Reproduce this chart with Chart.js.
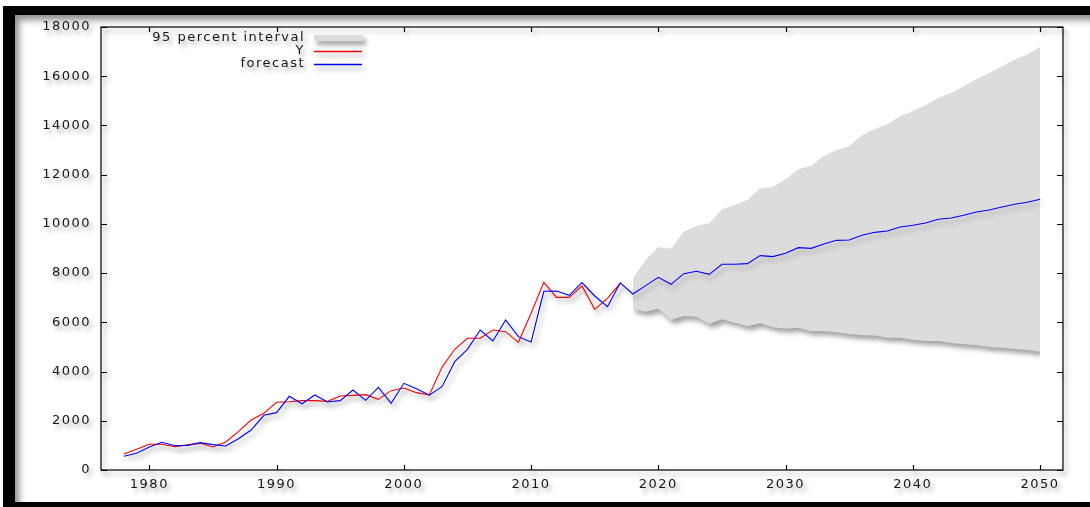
<!DOCTYPE html>
<html>
<head>
<meta charset="utf-8">
<script src="https://cdn.jsdelivr.net/npm/chart.js@4"></script>
<style>
  html, body { margin: 0; padding: 0; background: #fff; }
  body { width: 1090px; height: 507px; position: relative; overflow: hidden; }
  #frame {
    position: absolute; left: 3px; top: 6px; width: 1087px; height: 501px;
    box-sizing: border-box;
    border-top: 9px solid #000; border-left: 12px solid #000; border-bottom: 5px solid #000;
    box-shadow: inset 5px 6px 7px -1px rgba(0,0,0,0.45);
  }
  #c { position: absolute; left: 0; top: 0; }
</style>
</head>
<body>
<div id="frame"></div>
<canvas id="c" width="1090" height="507"></canvas>
<script>
// ---- data ----
const actualYears = [1978,1979,1980,1981,1982,1983,1984,1985,1986,1987,1988,1989,1990,1991,1992,1993,1994,1995,1996,1997,
  1998,1999,2000,2001,2002,2003,2004,2005,2006,2007,2008,2009,2010,2011,2012,2013,2014,2015,2016,2017];
const yValues = [650,840,1044,1044,948,1020,1083,935,1138,1558,2032,2302,2750,2775,2817,2817,2790,3007,3034,3062,
  2871,3224,3332,3143,3048,4172,4904,5351,5351,5689,5621,5188,6366,7626,7016,7016,7477,6529,6976,7585];

const forecastYears = [1978,1979,1980,1981,1982,1983,1984,1985,1986,1987,1988,1989,1990,1991,1992,1993,1994,1995,1996,1997,
  1998,1999,2000,2001,2002,2003,2004,2005,2006,2007,2008,2009,2010,2011,2012,2013,2014,2015,2016,2017,
  2018,2019,2020,2021,2022,2023,2024,2025,2026,2027,2028,2029,2030,2031,2032,2033,2034,2035,2036,2037,
  2038,2039,2040,2041,2042,2043,2044,2045,2046,2047,2048,2049,2050];
const forecastValues = [556,678,935,1125,989,1000,1110,1030,975,1273,1625,2222,2330,2995,2690,3048,2763,2817,3251,2830,
  3359,2709,3522,3305,3040,3387,4402,4904,5689,5242,6095,5418,5201,7260,7275,7097,7612,7070,6637,7600,
  7151,7490,7829,7544,7977,8073,7950,8357,8357,8385,8710,8669,8805,9034,9007,9183,9332,9345,9535,9657,
  9711,9874,9942,10036,10186,10240,10349,10484,10565,10687,10796,10877,11000];

const bandYears = [2018,2019,2020,2021,2022,2023,2024,2025,2026,2027,2028,2029,2030,2031,2032,2033,2034,2035,2036,2037,
  2038,2039,2040,2041,2042,2043,2044,2045,2046,2047,2048,2049,2050];
const bandUpper = [7789,8533,9049,8993,9684,9928,10024,10593,10768,10971,11446,11512,11812,12218,12365,12759,13003,13164,13597,13854,
  14045,14371,14588,14830,15130,15320,15591,15889,16132,16404,16675,16878,17192];
const bandLower = [6529,6432,6554,6095,6258,6230,5933,6123,5986,5839,5961,5798,5742,5784,5636,5650,5595,5526,5473,5460,
  5377,5377,5296,5242,5242,5160,5107,5079,4998,4970,4917,4876,4808];

const xTickValues = [1980,1990,2000,2010,2020,2030,2040,2050];
const yTickValues = [0,2000,4000,6000,8000,10000,12000,14000,16000,18000];
const legendLabels = ['95 percent interval','Y','forecast'];

const pts = (xs, ys) => xs.map((x, i) => ({x: x, y: ys[i]}));

const FONT = '13px "DejaVu Sans", sans-serif';
const TEXT = '#151515';

function applyStyle(ctx) {
  ctx.shadowColor = 'rgba(0,0,0,0.38)';
  ctx.shadowBlur = 5;
  ctx.shadowOffsetX = 3;
  ctx.shadowOffsetY = 4;
  try { ctx.letterSpacing = '1.5px'; } catch (e) {}
}

const stylePlugin = {
  id: 'gstyle',
  beforeDraw(chart) { applyStyle(chart.ctx); },
  afterDraw(chart) {
    const ctx = chart.ctx, a = chart.chartArea;
    const xs = chart.scales.x, ys = chart.scales.y;
    ctx.save();
    applyStyle(ctx);
    ctx.strokeStyle = '#000';
    ctx.lineWidth = 1.2;
    ctx.strokeRect(a.left, a.top, a.right - a.left, a.bottom - a.top);
    ctx.beginPath();
    yTickValues.forEach(v => {
      const py = Math.round(ys.getPixelForValue(v)) + 0.5;
      ctx.moveTo(a.left, py); ctx.lineTo(a.left + 6, py);
      ctx.moveTo(a.right - 6, py); ctx.lineTo(a.right, py);
    });
    xTickValues.forEach(v => {
      const px = Math.round(xs.getPixelForValue(v)) + 0.5;
      ctx.moveTo(px, a.bottom); ctx.lineTo(px, a.bottom - 5);
      ctx.moveTo(px, a.top); ctx.lineTo(px, a.top + 5);
    });
    ctx.stroke();

    // legend (gnuplot style: right-aligned text, sample to the right)
    ctx.font = FONT;
    ctx.fillStyle = TEXT;
    ctx.textAlign = 'right';
    ctx.textBaseline = 'middle';
    const rowsY = [38, 51, 64];
    const textRight = 305;
    legendLabels.forEach((t, i) => ctx.fillText(t, textRight, rowsY[i]));
    ctx.fillStyle = '#dcdcdc';
    ctx.fillRect(314, rowsY[0] - 3, 49, 6);
    ctx.lineWidth = 1.3;
    ctx.strokeStyle = '#ff0000';
    ctx.beginPath(); ctx.moveTo(314, rowsY[1] + 0.5); ctx.lineTo(362, rowsY[1] + 0.5); ctx.stroke();
    ctx.strokeStyle = '#0000ff';
    ctx.beginPath(); ctx.moveTo(314, rowsY[2] + 0.5); ctx.lineTo(362, rowsY[2] + 0.5); ctx.stroke();
    ctx.restore();
  }
};

new Chart(document.getElementById('c'), {
  type: 'line',
  data: {
    datasets: [
      { label: legendLabels[2], data: pts(forecastYears, forecastValues), borderColor: '#0000ff', borderWidth: 1.1,
        pointRadius: 0, fill: false, tension: 0, order: 0 },
      { label: legendLabels[1], data: pts(actualYears, yValues), borderColor: '#ff0000', borderWidth: 1.1,
        pointRadius: 0, fill: false, tension: 0, order: 1 },
      { label: 'upper', data: pts(bandYears, bandUpper), borderWidth: 0, borderColor: 'rgba(0,0,0,0)',
        backgroundColor: '#dcdcdc', pointRadius: 0, fill: '+1', tension: 0, order: 2 },
      { label: 'lower', data: pts(bandYears, bandLower), borderWidth: 0, borderColor: 'rgba(0,0,0,0)',
        pointRadius: 0, fill: false, tension: 0, order: 3 }
    ]
  },
  options: {
    responsive: false,
    animation: false,
    events: [],
    layout: { padding: { left: 0, top: 27, right: 27, bottom: 0 } },
    plugins: { legend: { display: false }, tooltip: { enabled: false } },
    scales: {
      x: {
        type: 'linear', min: 1976.2, max: 2051.8,
        afterBuildTicks: s => { s.ticks = xTickValues.map(v => ({value: v})); },
        afterFit: s => { s.height = 37; },
        grid: { display: false, drawTicks: false },
        border: { display: false },
        ticks: { font: { family: '"DejaVu Sans", sans-serif', size: 13 }, color: TEXT, padding: 7, maxRotation: 0,
                 callback: v => String(v) }
      },
      y: {
        type: 'linear', min: 0, max: 18000,
        afterBuildTicks: s => { s.ticks = yTickValues.map(v => ({value: v})); },
        afterFit: s => { s.width = 101; },
        grid: { display: false, drawTicks: false },
        border: { display: false },
        ticks: { font: { family: '"DejaVu Sans", sans-serif', size: 13 }, color: TEXT, padding: 10,
                 callback: v => String(v) }
      }
    }
  },
  plugins: [stylePlugin]
});
</script>
</body>
</html>
